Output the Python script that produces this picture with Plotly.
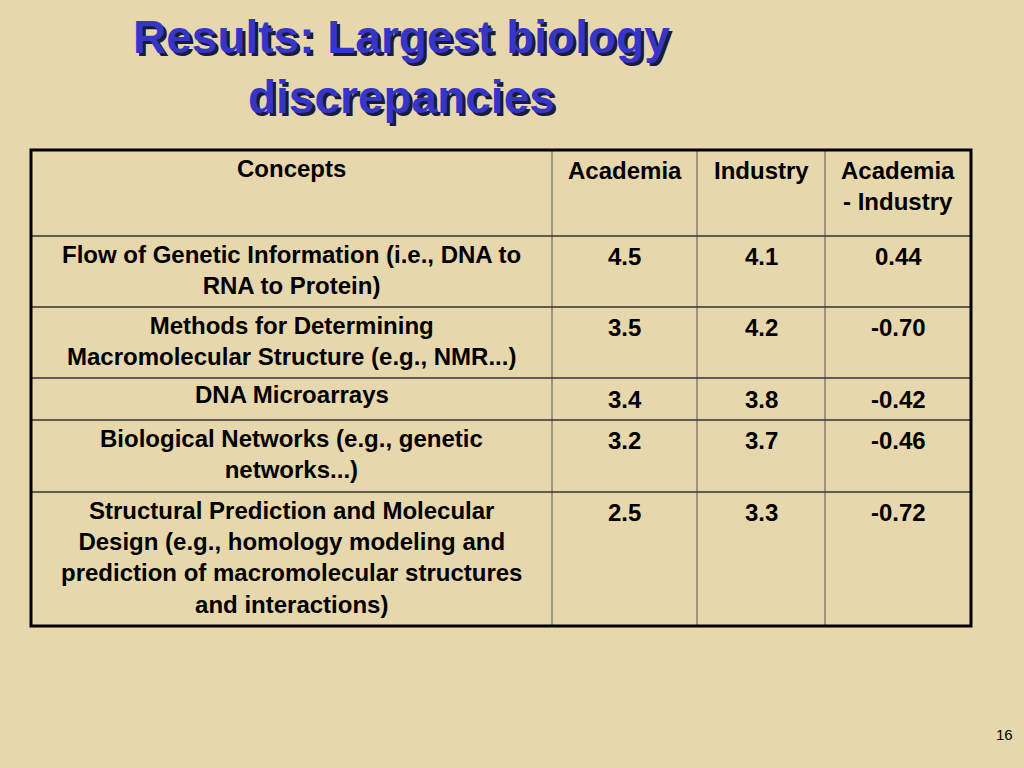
import plotly.graph_objects as go

headers = ["Concepts", "Academia", "Industry", "Academia<br>- Industry"]
concepts = [
    "Flow of Genetic Information (i.e., DNA to<br>RNA to Protein)",
    "Methods for Determining<br>Macromolecular Structure (e.g., NMR...)",
    "DNA Microarrays",
    "Biological Networks (e.g., genetic<br>networks...)",
    "Structural Prediction and Molecular<br>Design (e.g., homology modeling and<br>prediction of macromolecular structures<br>and interactions)",
]
academia = ["4.5", "3.5", "3.4", "3.2", "2.5"]
industry = ["4.1", "4.2", "3.8", "3.7", "3.3"]
diff = ["0.44", "-0.70", "-0.42", "-0.46", "-0.72"]

col_x = [31, 552, 697, 825, 971]
row_y = [150, 236, 307, 378, 420, 492, 626]

fig = go.Figure()
fnt = dict(family="Liberation Sans, Arial", size=24, color="black")
shapes = []
ann = []
for x in col_x[1:-1]:
    shapes.append(dict(type="line", x0=x, x1=x, y0=row_y[0], y1=row_y[-1], line=dict(color="#555", width=1)))
for y in row_y[1:-1]:
    shapes.append(dict(type="line", x0=col_x[0], x1=col_x[-1], y0=y, y1=y, line=dict(color="#333", width=1.5)))
shapes.append(dict(type="rect", x0=col_x[0], x1=col_x[-1], y0=row_y[0], y1=row_y[-1], line=dict(color="black", width=3)))

def cell(c, r, text, top_pad=6):
    ann.append(dict(x=(col_x[c] + col_x[c + 1]) / 2, y=row_y[r] + top_pad, text="<b>" + text + "</b>",
                    xanchor="center", yanchor="top", showarrow=False, font=fnt, align="center"))

for c, h in enumerate(headers):
    cell(c, 0, h, 3 if c == 0 else 5)
for i in range(len(concepts)):
    cell(0, i + 1, concepts[i], 3 if i != 2 else 1)
    pad = 5 if i != 2 else 6
    cell(1, i + 1, academia[i], pad)
    cell(2, i + 1, industry[i], pad)
    cell(3, i + 1, diff[i], pad)

title = "<b>Results: Largest biology<br>discrepancies</b>"
tf = dict(family="Liberation Sans, Arial", size=46)
ann.append(dict(x=404, y=12, text=title, showarrow=False, xanchor="center", yanchor="top",
                font=dict(color="#1a1a3a", **tf)))
ann.append(dict(x=401, y=9, text=title, showarrow=False, xanchor="center", yanchor="top",
                font=dict(color="#3535c8", **tf)))
ann.append(dict(x=1004, y=734, text="16", showarrow=False, xanchor="center", yanchor="middle",
                font=dict(family="Liberation Sans, Arial", size=15, color="black")))

fig.update_layout(width=1024, height=768, margin=dict(l=0, r=0, t=0, b=0),
                  paper_bgcolor="#e7d7ac", plot_bgcolor="#e7d7ac",
                  xaxis=dict(range=[0, 1024], visible=False, fixedrange=True),
                  yaxis=dict(range=[768, 0], visible=False, fixedrange=True),
                  shapes=shapes, annotations=ann, showlegend=False)
fig.write_html("out.html", config={"displayModeBar": False})
with open("out.html", encoding="utf-8") as f:
    html = f.read()
html = html.replace("<head>", "<head><style>html,body{margin:0;padding:0;overflow:hidden;background:#e7d7ac}</style>", 1)
with open("out.html", "w", encoding="utf-8") as f:
    f.write(html)
